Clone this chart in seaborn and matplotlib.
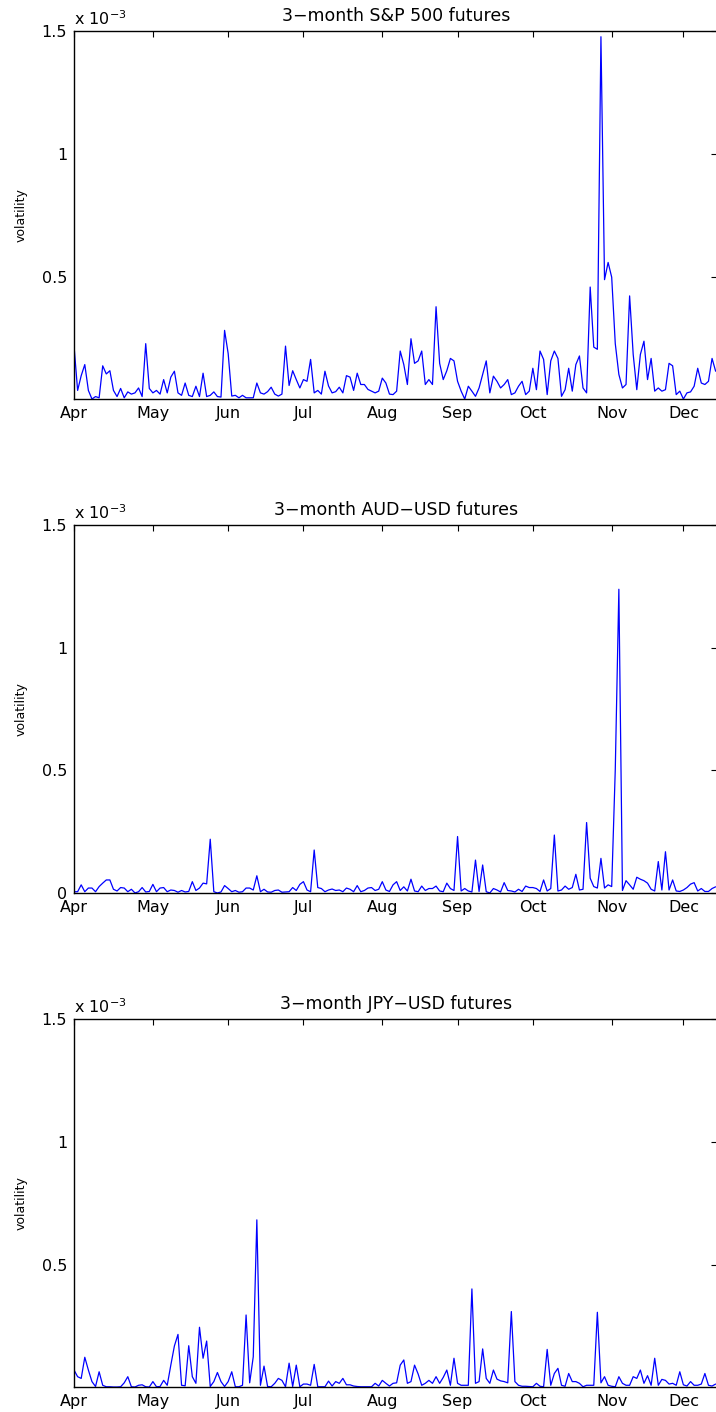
import numpy as np
import pandas as pd
import matplotlib
matplotlib.use('Agg')
import matplotlib.pyplot as plt
import seaborn as sns

# daily volatility (units of 1e-3), trading-day index starting 1 Apr
spx = [0.22, 0.04, 0.10, 0.145, 0.04, 0.005, 0.015, 0.01, 0.14, 0.107,
       0.12, 0.04, 0.015, 0.048, 0.01, 0.034, 0.025, 0.03, 0.05, 0.015,
       0.23, 0.048, 0.03, 0.04, 0.025, 0.084, 0.03, 0.094, 0.118, 0.03,
       0.02, 0.07, 0.02, 0.015, 0.057, 0.015, 0.11, 0.015, 0.02, 0.034,
       0.015, 0.013, 0.284, 0.19, 0.017, 0.02, 0.01, 0.02, 0.01, 0.01,
       0.01, 0.07, 0.03, 0.025, 0.035, 0.053, 0.025, 0.017, 0.025, 0.22,
       0.06, 0.12, 0.084, 0.05, 0.084, 0.077, 0.166, 0.03, 0.04, 0.025,
       0.118, 0.058, 0.03, 0.035, 0.053, 0.03, 0.10, 0.094, 0.04, 0.11,
       0.064, 0.064, 0.044, 0.037, 0.03, 0.037, 0.09, 0.07, 0.025, 0.023,
       0.037, 0.20, 0.145, 0.064, 0.25, 0.15, 0.16, 0.20, 0.064, 0.084,
       0.064, 0.38, 0.15, 0.084, 0.12, 0.17, 0.16, 0.077, 0.037, 0.005,
       0.057, 0.037, 0.016, 0.05, 0.105, 0.16, 0.03, 0.098, 0.077, 0.05,
       0.064, 0.084, 0.023, 0.03, 0.057, 0.077, 0.023, 0.037, 0.13, 0.043,
       0.20, 0.166, 0.023, 0.16, 0.20, 0.17, 0.016, 0.043, 0.13, 0.037,
       0.145, 0.18, 0.05, 0.03, 0.46, 0.216, 0.207, 1.477, 0.49, 0.56,
       0.50, 0.23, 0.105, 0.05, 0.064, 0.424, 0.186, 0.043, 0.186, 0.24,
       0.084, 0.17, 0.037, 0.05, 0.037, 0.043, 0.15, 0.14, 0.023, 0.037,
       0.005, 0.03, 0.034, 0.057, 0.13, 0.07, 0.064, 0.077, 0.17, 0.118]

aud = [0.005, 0.005, 0.033, 0.005, 0.02, 0.02, 0.005, 0.026, 0.04, 0.053,
       0.053, 0.015, 0.008, 0.022, 0.02, 0.005, 0.015, 0.0, 0.005, 0.022,
       0.004, 0.006, 0.035, 0.005, 0.02, 0.022, 0.005, 0.012, 0.01, 0.003,
       0.01, 0.004, 0.006, 0.046, 0.01, 0.02, 0.04, 0.037, 0.219, 0.005,
       0.0, 0.004, 0.03, 0.018, 0.005, 0.01, 0.003, 0.005, 0.02, 0.02,
       0.012, 0.07, 0.005, 0.015, 0.004, 0.003, 0.01, 0.012, 0.003, 0.004,
       0.005, 0.022, 0.01, 0.035, 0.046, 0.012, 0.005, 0.175, 0.022, 0.018,
       0.005, 0.012, 0.016, 0.01, 0.012, 0.005, 0.02, 0.015, 0.005, 0.03,
       0.005, 0.01, 0.02, 0.022, 0.01, 0.015, 0.046, 0.012, 0.006, 0.033,
       0.046, 0.01, 0.025, 0.008, 0.056, 0.008, 0.005, 0.028, 0.01, 0.018,
       0.018, 0.028, 0.008, 0.005, 0.04, 0.018, 0.01, 0.23, 0.008, 0.018,
       0.008, 0.004, 0.134, 0.006, 0.114, 0.005, 0.0, 0.018, 0.012, 0.004,
       0.042, 0.01, 0.008, 0.004, 0.015, 0.006, 0.028, 0.022, 0.022, 0.018,
       0.006, 0.053, 0.008, 0.018, 0.236, 0.008, 0.012, 0.028, 0.015, 0.022,
       0.076, 0.012, 0.015, 0.287, 0.06, 0.026, 0.02, 0.141, 0.02, 0.033,
       0.026, 0.504, 1.238, 0.01, 0.05, 0.033, 0.015, 0.064, 0.056, 0.05,
       0.04, 0.015, 0.008, 0.128, 0.012, 0.168, 0.012, 0.053, 0.008, 0.006,
       0.012, 0.022, 0.036, 0.042, 0.008, 0.018, 0.006, 0.006, 0.018, 0.025]

jpy = [0.072, 0.045, 0.038, 0.124, 0.072, 0.025, 0.005, 0.065, 0.01, 0.004,
       0.004, 0.003, 0.003, 0.004, 0.02, 0.045, 0.004, 0.003, 0.01, 0.012,
       0.004, 0.003, 0.025, 0.004, 0.005, 0.03, 0.01, 0.092, 0.17, 0.217,
       0.01, 0.008, 0.171, 0.045, 0.018, 0.246, 0.12, 0.19, 0.005, 0.025,
       0.062, 0.025, 0.005, 0.025, 0.065, 0.004, 0.004, 0.01, 0.296, 0.02,
       0.126, 0.683, 0.01, 0.088, 0.005, 0.004, 0.018, 0.038, 0.03, 0.004,
       0.10, 0.005, 0.092, 0.004, 0.015, 0.015, 0.01, 0.095, 0.004, 0.004,
       0.004, 0.027, 0.007, 0.025, 0.018, 0.038, 0.012, 0.012, 0.007, 0.005,
       0.004, 0.004, 0.004, 0.004, 0.018, 0.007, 0.03, 0.018, 0.007, 0.018,
       0.02, 0.092, 0.113, 0.018, 0.025, 0.092, 0.056, 0.01, 0.018, 0.03,
       0.018, 0.045, 0.018, 0.042, 0.072, 0.01, 0.12, 0.018, 0.01, 0.01,
       0.01, 0.402, 0.018, 0.025, 0.158, 0.038, 0.018, 0.072, 0.035, 0.028,
       0.025, 0.02, 0.31, 0.025, 0.01, 0.006, 0.006, 0.005, 0.004, 0.018,
       0.006, 0.004, 0.156, 0.01, 0.058, 0.079, 0.01, 0.006, 0.058, 0.025,
       0.025, 0.018, 0.004, 0.01, 0.01, 0.01, 0.307, 0.02, 0.045, 0.01,
       0.006, 0.004, 0.045, 0.018, 0.01, 0.01, 0.045, 0.038, 0.072, 0.018,
       0.049, 0.01, 0.12, 0.01, 0.034, 0.03, 0.015, 0.018, 0.01, 0.065,
       0.012, 0.007, 0.025, 0.01, 0.01, 0.015, 0.058, 0.01, 0.007, 0.015]

titles = ['3\u2212month S&P 500 futures', '3\u2212month AUD\u2212USD futures',
          '3\u2212month JPY\u2212USD futures']
month_pos = [0, 22, 43, 64, 86, 107, 128, 150, 170]
month_lab = ['Apr', 'May', 'Jun', 'Jul', 'Aug', 'Sep', 'Oct', 'Nov', 'Dec']
y_ticks = [0, 0.5, 1, 1.5]
y_labs = ['0', '0.5', '1', '1.5']

sns.set_style('white')
plt.rcParams['font.family'] = ['DejaVu Sans']
plt.rcParams['text.color'] = 'black'
plt.rcParams['axes.labelcolor'] = 'black'

fig = plt.figure(figsize=(7.16, 14.12), dpi=100)
# [left, bottom, width, height] of each panel, matched to the reference
boxes = [[0.1034, 0.7174, 0.8986, 0.2606],
         [0.1034, 0.3676, 0.8986, 0.2606],
         [0.1034, 0.0177, 0.8986, 0.2606]]

for box, vals, title in zip(boxes, [spx, aud, jpy], titles):
    ax = fig.add_axes(box)
    df = pd.DataFrame({'day': np.arange(len(vals)), 'vol': vals})
    sns.lineplot(data=df, x='day', y='vol', ax=ax, color='#0000ff',
                 linewidth=0.9)
    ax.set_xticks(month_pos)
    ax.set_xticklabels(month_lab)
    ax.set_yticks(y_ticks)
    ax.set_yticklabels(y_labs)
    ax.set_xlim(0, 179.5)
    ax.set_ylim(df['vol'].min(), 1.5)
    ax.tick_params(direction='in', length=4, width=0.8, top=True, right=True,
                   labelsize=11.5, color='black', labelcolor='black')
    ax.tick_params(axis='x', pad=5)
    ax.tick_params(axis='y', pad=5)
    for s in ax.spines.values():
        s.set_color('black')
        s.set_linewidth(1.0)
    ax.set_xlabel('')
    ax.set_ylabel('volatility', fontsize=9, color='black')
    ax.yaxis.set_label_coords(-0.072, 0.5)
    ax.set_title(title, fontsize=12.5, pad=7, color='black')
    ax.text(0.0, 1.008, r'x 10$^{\mathregular{-3}}$', transform=ax.transAxes,
            ha='left', va='bottom', fontsize=11.5, color='black')

fig.savefig('out.png', dpi=100)
